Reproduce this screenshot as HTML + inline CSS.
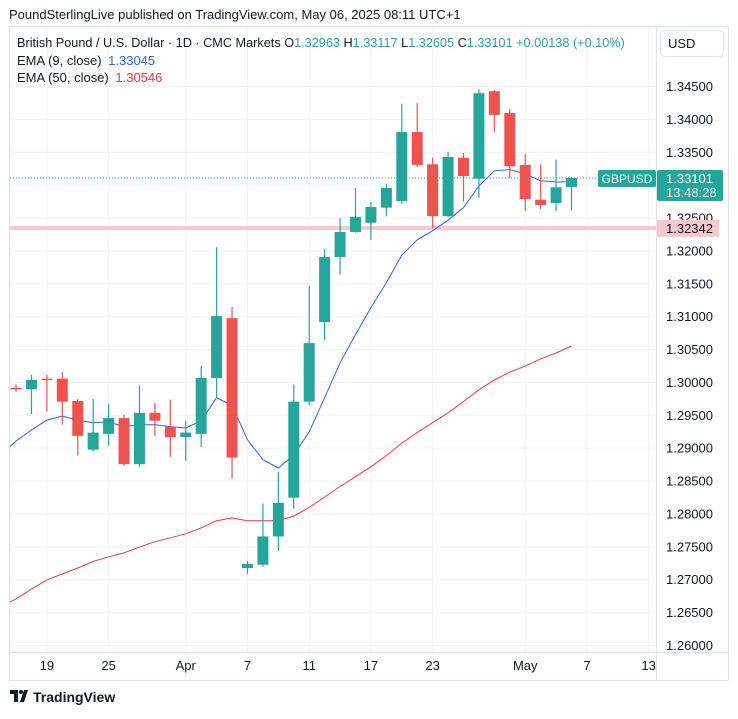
<!DOCTYPE html>
<html><head><meta charset="utf-8"><style>
body{margin:0;background:#fff;font-family:"Liberation Sans",Arial,sans-serif;}
svg text{font-family:"Liberation Sans",Arial,sans-serif;}
</style></head><body>
<svg id="c" width="738" height="714" xmlns="http://www.w3.org/2000/svg">
<text x="9" y="19" font-size="13" fill="#131722">PoundSterlingLive published on TradingView.com, May 06, 2025 08:11 UTC+1</text>
<rect x="9.5" y="26.5" width="719" height="654" fill="none" stroke="#e0e3eb"/>
<g id="grid"></g>
<line x1="656.5" y1="27" x2="656.5" y2="680" stroke="#e0e3eb"/>
<line x1="10" y1="652.5" x2="728" y2="652.5" stroke="#e0e3eb"/>
<g id="yticks"></g>
<g id="xticks"></g>
<rect x="10" y="226" width="646" height="4" fill="#f8c9cc"/>
<g id="plot"></g>
<text x="17" y="47" font-size="12.7" fill="#131722">British Pound / U.S. Dollar · 1D · CMC Markets <tspan fill="#131722">O</tspan><tspan fill="#26a69a">1.32963</tspan> <tspan fill="#131722">H</tspan><tspan fill="#26a69a">1.33117</tspan> <tspan fill="#131722">L</tspan><tspan fill="#26a69a">1.32605</tspan> <tspan fill="#131722">C</tspan><tspan fill="#26a69a">1.33101 +0.00138 (+0.10%)</tspan></text>
<text x="17" y="65" font-size="13" fill="#131722">EMA (9, close) <tspan fill="#2962ff" dx="3">1.33045</tspan></text>
<text x="17" y="82" font-size="13" fill="#131722">EMA (50, close) <tspan fill="#f23645" dx="3">1.30546</tspan></text>
<rect x="660.5" y="30.5" width="63" height="26" rx="4" fill="#fff" stroke="#e0e3eb"/>
<text x="668" y="48" font-size="13" fill="#131722">USD</text>
<g><path d="M10 690h8v12h-4v-8h-4z M20 702l4-12h4l-4 12z" fill="#131722"/><circle cx="21" cy="692" r="2" fill="#131722"/><text x="33" y="702" font-size="14" font-weight="bold" fill="#131722">TradingView</text></g>
</svg>
<script>
const opens=[1.2991,1.2989,1.3005,1.3005,1.2971,1.2897,1.2921,1.2945,1.2875,1.2953,1.2932,1.2916,1.2921,1.3006,1.3097,1.2717,1.2722,1.2765,1.2824,1.2970,1.3091,1.3190,1.3228,1.3242,1.3265,1.3275,1.3380,1.3331,1.3252,1.3341,1.3309,1.3442,1.3409,1.3330,1.3277,1.3272,1.32963];
const highs=[1.2996,1.3011,1.3011,1.3015,1.2974,1.2974,1.2967,1.2950,1.2994,1.2968,1.2973,1.2941,1.3024,1.3205,1.3114,1.2728,1.2815,1.2863,1.2996,1.3146,1.3202,1.3249,1.3295,1.3274,1.3301,1.3423,1.3424,1.3341,1.3350,1.3348,1.3445,1.3444,1.3415,1.3347,1.3331,1.3338,1.33117];
const lows=[1.2985,1.2951,1.2955,1.2935,1.2888,1.2894,1.2903,1.2872,1.2871,1.2918,1.2886,1.2880,1.2901,1.2976,1.2853,1.2708,1.2719,1.2743,1.2807,1.2965,1.3064,1.3163,1.3227,1.3216,1.3252,1.3271,1.3327,1.3234,1.3251,1.3274,1.3280,1.3380,1.3310,1.3260,1.3263,1.3260,1.32605];
const closes=[1.2990,1.3003,1.3004,1.2970,1.2918,1.2923,1.2945,1.2875,1.2953,1.2941,1.2916,1.2923,1.3006,1.3100,1.2885,1.2723,1.2765,1.2816,1.2970,1.3059,1.3190,1.3228,1.3251,1.3266,1.3295,1.3380,1.3330,1.3252,1.3342,1.3313,1.3439,1.3406,1.3328,1.3278,1.3269,1.3296,1.33101];
const ema9=[1.2889,1.2910,1.2927,1.2942,1.2948,1.2942,1.2938,1.2939,1.2932,1.2935,1.2935,1.2932,1.2930,1.2941,1.2976,1.2964,1.2912,1.2882,1.2869,1.2889,1.2924,1.2976,1.3029,1.3072,1.3113,1.3151,1.3193,1.3216,1.3230,1.3246,1.3265,1.3298,1.3321,1.3323,1.3316,1.3306,1.3304,1.33045];
const ema50=[1.2658,1.2670,1.2685,1.2699,1.2708,1.2717,1.2727,1.2734,1.2740,1.2749,1.2757,1.2763,1.2769,1.2778,1.2789,1.2793,1.2789,1.2789,1.2789,1.2796,1.2809,1.2825,1.2841,1.2856,1.2871,1.2888,1.2907,1.2923,1.2938,1.2953,1.2970,1.2988,1.3003,1.3015,1.3024,1.3035,1.3044,1.30546];
const priceTicks=[1.345,1.34,1.335,1.33,1.325,1.32,1.315,1.31,1.305,1.30,1.295,1.29,1.285,1.28,1.275,1.27,1.265,1.26];
const timeLabels=["19","25","Apr","7","11","17","23","May","7","13"];
const timeIdx=[3,7,12,16,20,24,28,34,38,42];
const lastClose=1.33101, levelPrice=1.32342;

const NS="http://www.w3.org/2000/svg";
const y=p=>86+(1.345-p)/0.005*32.88;
const x=i=>0.6+i*15.43;
function mk(tag,attrs,parent,txt){const e=document.createElementNS(NS,tag);for(const k in attrs)e.setAttribute(k,attrs[k]);if(txt!==undefined)e.textContent=txt;parent.appendChild(e);return e;}
const grid=document.getElementById('grid'),yt=document.getElementById('yticks'),xt=document.getElementById('xticks'),plot=document.getElementById('plot');
priceTicks.forEach(p=>{
  const g=mk('line',{x1:10,x2:656,y1:y(p)+0.5,y2:y(p)+0.5,stroke:'#f2f3f5'},grid);
  
  
  const t=mk('text',{x:666,y:y(p)+5,'font-size':13,fill:'#131722'},yt,p.toFixed(5));
  
  
});
timeIdx.forEach((ti,k)=>{
  const xx=x(ti);
  const g=mk('line',{x1:xx,x2:xx,y1:27,y2:652,stroke:'#f2f3f5'},grid);
  
  
  const t=mk('text',{x:xx,y:670,'font-size':13,fill:'#131722','text-anchor':'middle'},xt,timeLabels[k]);
  
  
});
const clip=mk('clipPath',{id:'cp'},plot);mk('rect',{x:10,y:27,width:646,height:625},clip);
const pg=mk('g',{'clip-path':'url(#cp)'},plot);
function line(arr,col,name){
  const pts=arr.map((v,i)=>x(i).toFixed(1)+','+y(v).toFixed(1)).join(' ');
  const l=mk('polyline',{points:pts,fill:'none',stroke:col,'stroke-width':1},pg);
  
  
}
line(ema50,'#f23645','ema50-line');
line(ema9,'#2962ff','ema9-line');
opens.forEach((o,i)=>{
  const c=closes[i],up=c>=o,col=up?'#26a69a':'#ef5350',xx=x(i+1);
  const w=mk('line',{x1:xx,x2:xx,y1:y(highs[i]),y2:y(lows[i]),stroke:col,'stroke-width':1.2},pg);
  
  
  const top=y(Math.max(o,c)),bot=y(Math.min(o,c));
  const b=mk('rect',{x:xx-5.5,y:top,width:11,height:Math.max(1.5,bot-top),fill:col},pg);
  
  
});
const ly=y(lastClose);
const dl=mk('line',{x1:10,x2:598,y1:ly,y2:ly,stroke:'#26a69a','stroke-dasharray':'1 2'},plot);


const sb=mk('rect',{x:598,y:ly-8,width:58,height:17,rx:2,fill:'#26a69a'},plot);


const st=mk('text',{x:627,y:ly+5,'font-size':12,fill:'#fff','text-anchor':'middle'},plot,'GBPUSD');


const pb=mk('rect',{x:657,y:ly-8,width:66,height:31,rx:2,fill:'#26a69a'},plot);


const pt=mk('text',{x:666,y:ly+5,'font-size':13,fill:'#fff'},plot,lastClose.toFixed(5));


const ct=mk('text',{x:666,y:ly+19,'font-size':13,fill:'#e0f2f1'},plot,'13:48:28');


const lv=y(levelPrice);
const lb=mk('rect',{x:657,y:lv-8,width:62,height:17,fill:'#f8c9cc'},plot);


const lt=mk('text',{x:666,y:lv+5,'font-size':13,fill:'#131722'},plot,levelPrice.toFixed(5));


</script>
</body></html>
